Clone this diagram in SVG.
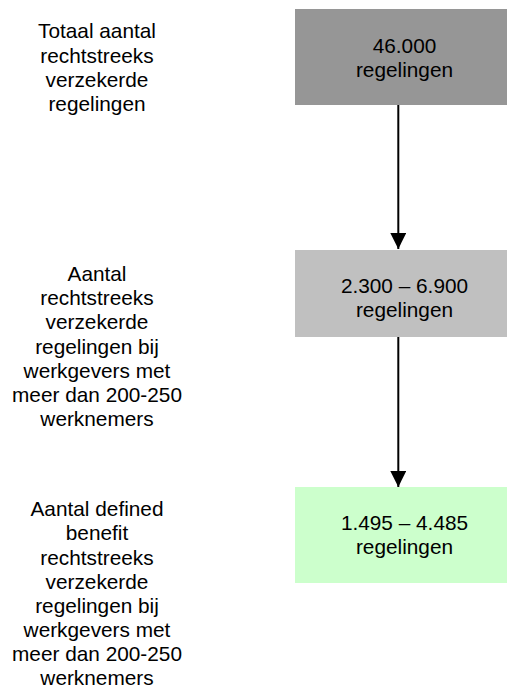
<svg xmlns="http://www.w3.org/2000/svg" width="507" height="689" viewBox="0 0 507 689">
<style>
text{font-family:"Liberation Sans",Arial,sans-serif;font-size:20.8px;fill:#000;text-anchor:middle}
.conn{stroke:#000;stroke-width:2;fill:none}
</style>
<defs>
<marker id="ah" markerUnits="userSpaceOnUse" markerWidth="16" markerHeight="17" refX="16" refY="8" orient="auto">
<path d="M0,0 L16,8 L0,16 Z" fill="#000"/>
</marker>
</defs>
<rect width="507" height="689" fill="#fff"/>
<g id="label1">
<text x="97" y="38">Totaal aantal</text>
<text x="97" y="62.5">rechtstreeks</text>
<text x="97" y="86.5">verzekerde</text>
<text x="97" y="110.5">regelingen</text>
</g>
<g id="label2">
<text x="97" y="281">Aantal</text>
<text x="97" y="305">rechtstreeks</text>
<text x="97" y="329">verzekerde</text>
<text x="97" y="353.5">regelingen bij</text>
<text x="97" y="378">werkgevers met</text>
<text x="97" y="402">meer dan 200-250</text>
<text x="97" y="426">werknemers</text>
</g>
<g id="label3">
<text x="97" y="516">Aantal defined</text>
<text x="97" y="540">benefit</text>
<text x="97" y="564.5">rechtstreeks</text>
<text x="97" y="588.5">verzekerde</text>
<text x="97" y="612.5">regelingen bij</text>
<text x="97" y="637">werkgevers met</text>
<text x="97" y="661">meer dan 200-250</text>
<text x="97" y="685">werknemers</text>
</g>
<g id="node1">
<rect x="295" y="9" width="212" height="96" fill="#969696"/>
<text x="404.5" y="52.5">46.000</text>
<text x="404.5" y="76.5">regelingen</text>
</g>
<g id="node2">
<rect x="295" y="250" width="212" height="87" fill="#c0c0c0"/>
<text x="404.5" y="293">2.300 – 6.900</text>
<text x="404.5" y="317">regelingen</text>
</g>
<g id="node3">
<rect x="295" y="487" width="212" height="96" fill="#ccffcc"/>
<text x="404.5" y="530">1.495 – 4.485</text>
<text x="404.5" y="554">regelingen</text>
</g>
<g id="connectors">
<line class="conn" x1="398.3" y1="105" x2="398.3" y2="249" marker-end="url(#ah)"/>
<line class="conn" x1="398.3" y1="337" x2="398.3" y2="487" marker-end="url(#ah)"/>
</g>
</svg>
